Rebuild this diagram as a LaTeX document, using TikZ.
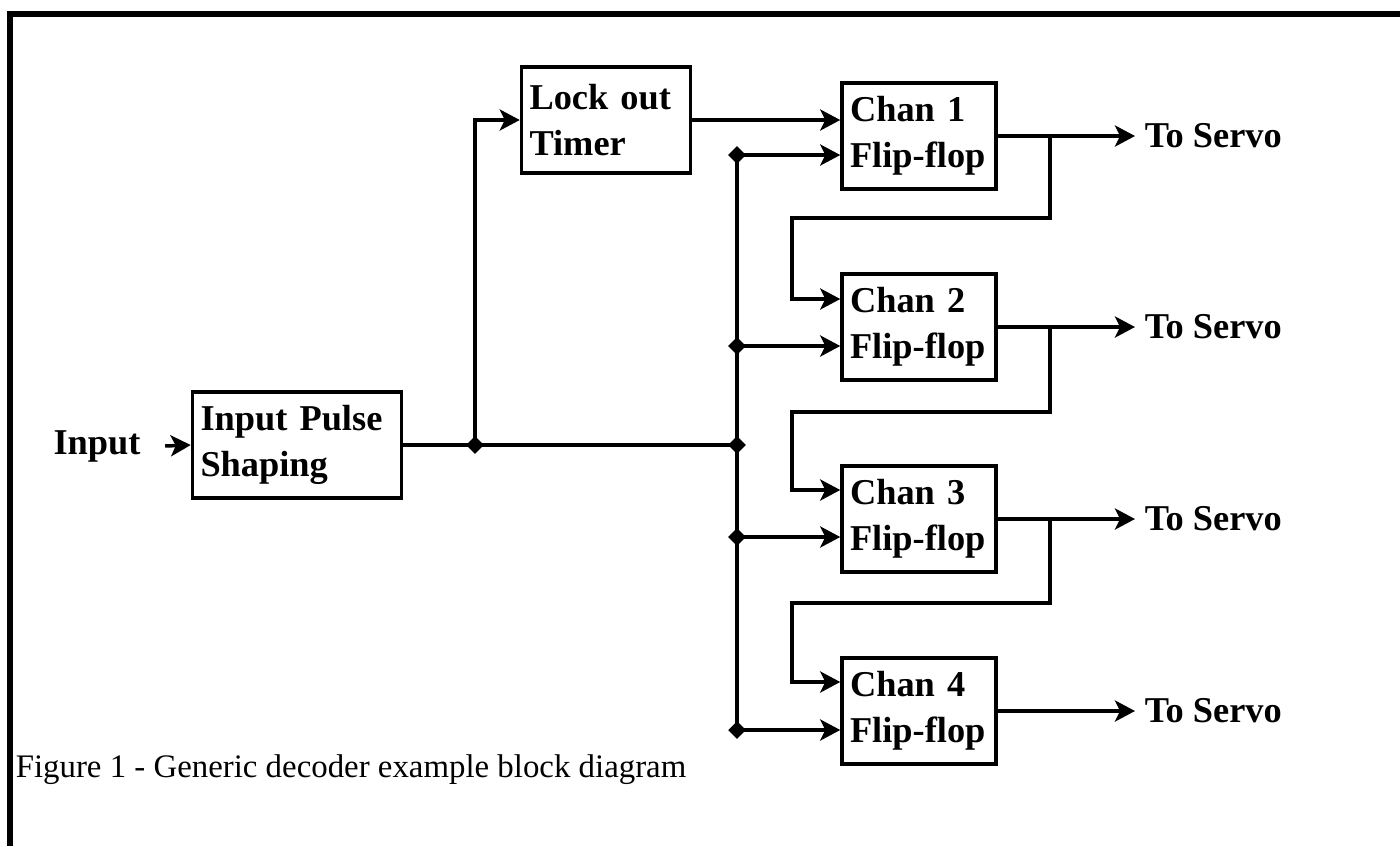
\documentclass[tikz,border=0pt]{standalone}
\usepackage{fontspec}
\setmainfont{Liberation Serif}
\usetikzlibrary{arrows.meta,positioning,shapes.geometric}

\begin{document}
\begin{tikzpicture}[x=0.02cm,y=-0.02cm,>={Stealth[length=0.4cm,width=0.42cm,inset=0.1cm]},line width=2pt,
  every node/.style={font=\fontsize{20.7}{26}\selectfont\bfseries},
  blk/.style={draw,rectangle,minimum height=2.12cm,align=left,inner xsep=0.16cm},
  lbl/.style={inner sep=0.16cm},
  jdot/.style={diamond,fill,inner sep=0pt,minimum size=0.38cm}]
\useasboundingbox (0,0) rectangle (1400,846);
\draw[line width=0.12cm] (10,846) |- (1400,14);
\node[lbl] (inp) at (97,446) {Input};
\node[blk,text width=3.86cm] (shp) at (297,445) {Input Pulse\\Shaping};
\node[blk,text width=3.06cm] (lock) at (606,120) {Lock out\\Timer};
\node[blk,text width=2.76cm] (ch1) at (919,136) {Chan 1\\Flip-flop};
\node[blk,text width=2.76cm] (ch2) at (919,327) {Chan 2\\Flip-flop};
\node[blk,text width=2.76cm] (ch3) at (919,519) {Chan 3\\Flip-flop};
\node[blk,text width=2.76cm] (ch4) at (919,711) {Chan 4\\Flip-flop};
\node[lbl,anchor=west] (srv1) at (1135,136) {To Servo};
\node[lbl,anchor=west] (srv2) at (1135,327) {To Servo};
\node[lbl,anchor=west] (srv3) at (1135,519) {To Servo};
\node[lbl,anchor=west] (srv4) at (1135,711) {To Servo};
\node[jdot] (j0) at (475,445) {};
\node[jdot] (jm) at (737,445) {};
\node[jdot] (j1) at (737,155) {};
\node[jdot] (j2) at (737,346) {};
\node[jdot] (j3) at (737,537) {};
\node[jdot] (j4) at (737,730) {};
\coordinate (b1) at (1050,136);
\coordinate (b2) at (1050,327);
\coordinate (b3) at (1050,519);
\coordinate (u2) at (792,299);
\coordinate (u3) at (792,490);
\coordinate (u4) at (792,682);
\draw[->] ([xshift=0.3cm]inp.east) -- (shp.west);
\draw (shp.east) -- (jm.center);
\draw[->] (j0.center) |- (lock.west);
\draw[->] (lock.east) -- (lock.east -| ch1.west);
\draw (j1.center) -- (j4.center);
\draw[->] (j1.center) -- (j1 -| ch1.west);
\draw[->] (j2.center) -- (j2 -| ch2.west);
\draw[->] (j3.center) -- (j3 -| ch3.west);
\draw[->] (j4.center) -- (j4 -| ch4.west);
\draw[->] (ch1.east) -- (srv1.west);
\draw[->] (ch2.east) -- (srv2.west);
\draw[->] (ch3.east) -- (srv3.west);
\draw[->] (ch4.east) -- (srv4.west);
\draw[->] (b1) -- ++(0,82) -| (u2) -- (u2 -| ch2.west);
\draw[->] (b2) -- ++(0,85) -| (u3) -- (u3 -| ch3.west);
\draw[->] (b3) -- ++(0,84) -| (u4) -- (u4 -| ch4.west);
\node[font=\fontsize{18.7}{22}\selectfont,anchor=west,inner sep=0pt] (cap) at (14,770) {Figure 1 - Generic decoder example block diagram};
\end{tikzpicture}
\end{document}
